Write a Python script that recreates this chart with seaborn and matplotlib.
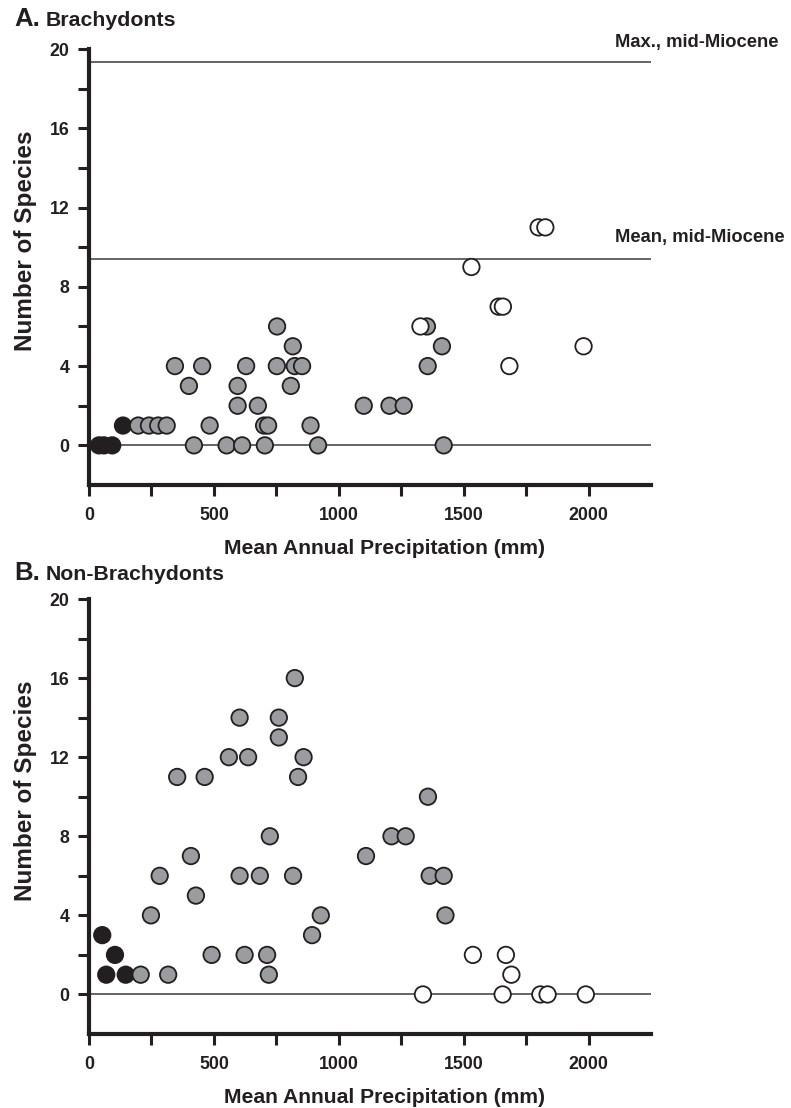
import numpy as np
import pandas as pd
import matplotlib
matplotlib.use("Agg")
import matplotlib.pyplot as plt
import seaborn as sns

# ---------------- data ----------------
# Panel A: Brachydonts
a_black_x = [40, 60, 93, 136]
a_black_y = [0, 0, 0, 1]
a_gray_x = [420, 551, 613, 704, 917, 1420,
            197, 240, 277, 311, 483, 701, 717, 887,
            595, 676, 1100, 1203, 1260,
            400, 595, 808,
            344, 453, 629, 752, 824, 853, 1356,
            816, 1413,
            753, 1353]
a_gray_y = [0, 0, 0, 0, 0, 0,
            1, 1, 1, 1, 1, 1, 1, 1,
            2, 2, 2, 2, 2,
            3, 3, 3,
            4, 4, 4, 4, 4, 4, 4,
            5, 5,
            6, 6]
a_white_x = [1327, 1531, 1640, 1657, 1683, 1800, 1827, 1980]
a_white_y = [6, 9, 7, 7, 4, 11, 11, 5]

# Panel B: Non-Brachydonts
b_black_x = [53, 104, 69, 147]
b_black_y = [3, 2, 1, 1]
b_gray_x = [207, 317, 248, 283, 353, 463, 408, 428, 491, 560, 637, 603, 603,
            623, 684, 724, 713, 720, 760, 760, 824, 859, 837, 817, 928, 893,
            1109, 1211, 1268, 1357, 1364, 1420, 1427]
b_gray_y = [1, 1, 4, 6, 11, 11, 7, 5, 2, 12, 12, 14, 6,
            2, 6, 8, 2, 1, 14, 13, 16, 12, 11, 6, 4, 3,
            7, 8, 8, 10, 6, 6, 4]
b_white_x = [1337, 1537, 1669, 1691, 1656, 1807, 1836, 1989]
b_white_y = [0, 2, 2, 1, 0, 0, 0, 0]

mean_mid_miocene = 9.4
max_mid_miocene = 19.35

groups = ["arid", "intermediate", "humid"]
palette = {"arid": "#231f20", "intermediate": "#9b9ca0", "humid": "#ffffff"}

y_ticks = list(range(0, 21, 2))
y_labels = [str(v) if v % 4 == 0 else "" for v in y_ticks]
x_ticks = list(range(0, 2001, 250))
x_labels = [str(v) if v % 500 == 0 else "" for v in x_ticks]


def frame(bx, by, gx, gy, wx, wy):
    return pd.DataFrame({
        "precip": list(bx) + list(gx) + list(wx),
        "species": list(by) + list(gy) + list(wy),
        "group": [groups[0]] * len(bx) + [groups[1]] * len(gx) + [groups[2]] * len(wx),
    })


df_a = frame(a_black_x, a_black_y, a_gray_x, a_gray_y, a_white_x, a_white_y)
df_b = frame(b_black_x, b_black_y, b_gray_x, b_gray_y, b_white_x, b_white_y)

# ---------------- style ----------------
sns.set_style("ticks")
plt.rcParams["font.family"] = ["Liberation Sans", "DejaVu Sans"]
plt.rcParams["font.weight"] = "bold"

W, H = 791, 1108
fig = plt.figure(figsize=(W / 100, H / 100), dpi=100)

def px_axes(left, top, right, bottom):
    return fig.add_axes([left / W, 1 - bottom / H, (right - left) / W, (bottom - top) / H])

ax_a = px_axes(89, 49, 651, 485)
ax_b = px_axes(89, 599, 651, 1034)

ink = "#231f20"
line_col = "#3a3a3a"
for ax, df in ((ax_a, df_a), (ax_b, df_b)):
    ax.axhline(0, color=line_col, lw=1.1, zorder=1)
    sns.scatterplot(data=df, x="precip", y="species", hue="group",
                    palette=palette, hue_order=groups, s=140,
                    edgecolor=ink, linewidth=1.3, legend=False,
                    ax=ax, zorder=3)
    ax.set_xlim(0, 2250)
    ax.set_ylim(-2, 20)
    ax.set_yticks(y_ticks)
    ax.set_yticklabels(y_labels)
    ax.set_xticks(x_ticks)
    ax.set_xticklabels(x_labels)
    for s in ("top", "right"):
        ax.spines[s].set_visible(False)
    for s in ("left", "bottom"):
        ax.spines[s].set_linewidth(3.0)
        ax.spines[s].set_color(ink)
    ax.tick_params(axis="both", length=8, width=2.2, color=ink,
                   labelsize=12.8, labelcolor=ink)
    ax.tick_params(axis="y", pad=6)
    ax.tick_params(axis="x", pad=8)
    for lab in ax.get_xticklabels() + ax.get_yticklabels():
        lab.set_fontweight("bold")
    ax.set_xlabel("Mean Annual Precipitation (mm)", fontsize=15.2,
                  fontweight="bold", color=ink)
    ax.xaxis.set_label_coords(0.525, -0.124)
    ax.set_ylabel("Number of Species", fontsize=17.5, fontweight="bold",
                  color=ink)
    ax.yaxis.set_label_coords(-0.093, 0.56)
    ax.set_facecolor("white")

# mid-Miocene reference lines (panel A)
ax_a.axhline(max_mid_miocene, color=line_col, lw=1.1, zorder=1)
ax_a.axhline(mean_mid_miocene, color=line_col, lw=1.1, zorder=1)
ax_a.text(2104, 20.35, "Max., mid-Miocene", ha="left", va="center",
          fontsize=13.2, fontweight="bold", color=ink, clip_on=False)
ax_a.text(2104, 10.5, "Mean, mid-Miocene", ha="left", va="center",
          fontsize=13.2, fontweight="bold", color=ink, clip_on=False)

# panel titles
for ytop, letter, name in ((26, "A.", "Brachydonts"), (580, "B.", "Non-Brachydonts")):
    fig.text(14 / W, 1 - ytop / H, letter, fontsize=18.5, fontweight="bold",
             color=ink, ha="left", va="baseline")
    fig.text(46 / W, 1 - ytop / H, name, fontsize=15.3, fontweight="bold",
             color=ink, ha="left", va="baseline")

fig.savefig("out.png", dpi=100, facecolor="white")
